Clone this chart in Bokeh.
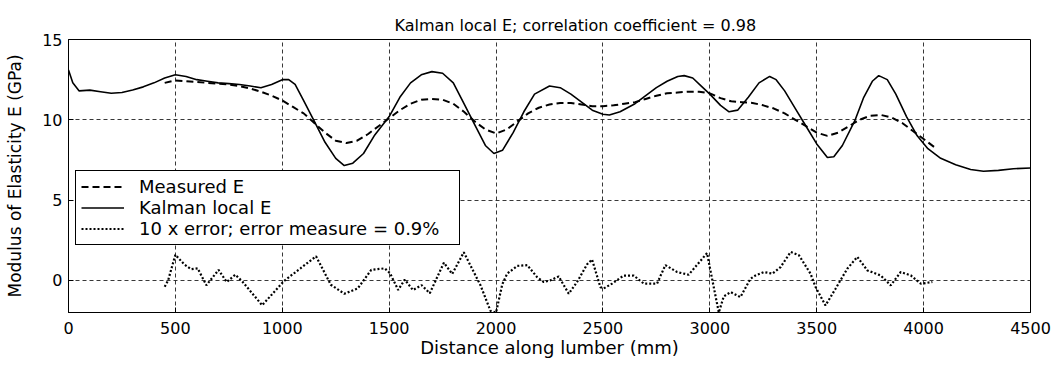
from bokeh.plotting import figure
from bokeh.models import Range1d, Legend, LegendItem, FixedTicker, Title
from bokeh.embed import file_html
from bokeh.resources import INLINE

# ---------------- data ----------------
kalman_x = [0, 20, 50, 100, 150, 200, 250, 300, 350, 400, 450, 500, 550, 600, 650, 700,
            750, 800, 850, 900, 950, 1000, 1030, 1060, 1100, 1150, 1200, 1250, 1290, 1330,
            1380, 1430, 1500, 1550, 1600, 1650, 1700, 1750, 1800, 1850, 1900, 1950, 1990,
            2030, 2080, 2130, 2180, 2250, 2300, 2350, 2400, 2450, 2500, 2530, 2580, 2650,
            2700, 2750, 2800, 2850, 2880, 2920, 2960, 3000, 3050, 3090, 3130, 3180, 3230,
            3280, 3310, 3350, 3400, 3450, 3500, 3550, 3580, 3620, 3680, 3720, 3760, 3790,
            3830, 3870, 3920, 3970, 4020, 4080, 4150, 4220, 4280, 4350, 4420, 4500]
kalman_e = [13.1, 12.3, 11.8, 11.85, 11.75, 11.65, 11.7, 11.85, 12.05, 12.3, 12.6, 12.8,
            12.7, 12.5, 12.4, 12.3, 12.25, 12.2, 12.1, 12.0, 12.2, 12.5, 12.5, 12.2, 11.2,
            9.9, 8.6, 7.6, 7.15, 7.3, 7.9, 9.0, 10.2, 11.4, 12.3, 12.8, 13.0, 12.9, 12.3,
            11.0, 9.7, 8.4, 7.9, 8.1, 9.2, 10.5, 11.6, 12.1, 12.0, 11.6, 11.1, 10.6, 10.35,
            10.3, 10.5, 11.0, 11.5, 12.0, 12.4, 12.7, 12.75, 12.6, 12.1, 11.6, 10.9, 10.5,
            10.6, 11.4, 12.3, 12.7, 12.5, 11.8, 10.7, 9.6, 8.5, 7.65, 7.7, 8.4, 10.0, 11.4,
            12.4, 12.75, 12.5, 11.6, 10.2, 9.0, 8.2, 7.6, 7.2, 6.9, 6.8, 6.85, 6.95, 7.0]

measured_x = [450, 500, 550, 600, 650, 700, 750, 800, 850, 900, 950, 1000, 1050, 1100,
              1150, 1200, 1250, 1300, 1350, 1400, 1450, 1500, 1550, 1600, 1650, 1700,
              1750, 1800, 1850, 1900, 1950, 2000, 2050, 2100, 2150, 2200, 2250, 2300,
              2350, 2400, 2450, 2500, 2550, 2600, 2650, 2700, 2750, 2800, 2850, 2900,
              2950, 3000, 3050, 3100, 3150, 3200, 3250, 3300, 3350, 3400, 3450, 3500,
              3550, 3600, 3650, 3700, 3750, 3800, 3850, 3900, 3950, 4000, 4050]
measured_e = [12.3, 12.45, 12.4, 12.35, 12.3, 12.25, 12.2, 12.1, 11.95, 11.75, 11.5, 11.2,
              10.8, 10.4, 9.8, 9.2, 8.7, 8.55, 8.7, 9.1, 9.6, 10.1, 10.6, 11.0, 11.25,
              11.3, 11.25, 11.0, 10.5, 9.9, 9.4, 9.15, 9.4, 9.9, 10.4, 10.75, 10.95, 11.05,
              11.05, 10.95, 10.85, 10.85, 10.9, 11.0, 11.1, 11.3, 11.5, 11.65, 11.7, 11.75,
              11.75, 11.65, 11.35, 11.15, 11.1, 11.05, 10.9, 10.7, 10.4, 10.0, 9.6, 9.2,
              9.0, 9.2, 9.6, 10.0, 10.25, 10.3, 10.15, 9.8, 9.3, 8.8, 8.3]

error_x = [450, 466, 500, 541, 573, 604, 645, 702, 740, 780, 812, 906, 1007, 1085, 1158,
           1227, 1290, 1353, 1416, 1479, 1504, 1542, 1573, 1611, 1652, 1690, 1756, 1795,
           1849, 1927, 1974, 2000, 2029, 2052, 2099, 2146, 2192, 2223, 2254, 2293, 2340,
           2379, 2426, 2449, 2488, 2504, 2543, 2597, 2644, 2691, 2753, 2792, 2847, 2901,
           2987, 3003, 3042, 3065, 3097, 3143, 3190, 3214, 3253, 3292, 3331, 3378, 3417,
           3471, 3495, 3541, 3588, 3643, 3690, 3737, 3799, 3846, 3893, 3940, 3987, 4041]
error_10x = [-0.4, 0.0, 1.6, 1.0, 0.7, 0.75, -0.3, 0.65, -0.1, 0.35, -0.05, -1.55, -0.05,
             0.75, 1.5, -0.27, -0.83, -0.5, 0.65, 0.75, 0.45, -0.6, 0.05, -0.6, -0.3, -0.8,
             1.1, 0.4, 1.75, -0.3, -1.9, -2.0, -0.25, 0.42, 0.9, 0.95, 0.2, -0.1, 0.0, 0.25,
             -0.83, -0.1, 1.0, 1.3, -0.42, -0.5, -0.2, 0.3, 0.3, -0.2, -0.2, 0.95, 0.52,
             0.35, 1.7, 0.6, -2.0, -1.0, -0.73, -1.04, 0.1, 0.31, 0.52, 0.42, 0.83, 1.77,
             1.56, 0.42, -0.42, -1.56, -0.52, 0.73, 1.46, 0.62, 0.31, -0.31, 0.52, 0.31,
             -0.21, -0.1]

x_ticks = [0, 500, 1000, 1500, 2000, 2500, 3000, 3500, 4000, 4500]
y_ticks = [0, 5, 10, 15]
title_text = "Kalman local E; correlation coefficient = 0.98"
x_label = "Distance along lumber (mm)"
y_label = "Modulus of Elasticity E (GPa)"
legend_labels = ["Measured E", "Kalman local E", "10 x error; error measure = 0.9%"]

FONT = "DejaVu Sans"

# ---------------- figure ----------------
p = figure(width=1055, height=365, output_backend="svg", toolbar_location=None,
           x_range=Range1d(0, 4500), y_range=Range1d(-2, 15),
           min_border_left=68, min_border_right=25, min_border_top=39, min_border_bottom=53)
p.title = Title(text=title_text, align="left", offset=326, standoff=6,
                vertical_align="top",
                text_font=FONT, text_font_size="16px", text_font_style="normal",
                text_color="black")

p.background_fill_color = "white"
p.border_fill_color = "white"
p.outline_line_color = "black"
p.outline_line_width = 1
p.outline_line_alpha = 1

r_meas = p.line(measured_x, measured_e, line_color="black", line_width=2, line_dash="7 4")
r_kal = p.line(kalman_x, kalman_e, line_color="black", line_width=1.6)
r_err = p.line(error_x, error_10x, line_color="black", line_width=2.2, line_dash="2 2")

for ax in (p.xaxis[0], p.yaxis[0]):
    ax.axis_line_color = "black"
    ax.major_tick_in = 5
    ax.major_tick_out = 0
    ax.minor_tick_line_color = None
    ax.major_tick_line_color = "black"
    ax.major_label_text_font = FONT
    ax.major_label_text_font_size = "16px"
    ax.major_label_text_color = "black"
    ax.axis_label_text_font = FONT
    ax.axis_label_text_font_style = "normal"
    ax.axis_label_text_color = "black"

p.xaxis.ticker = FixedTicker(ticks=x_ticks)
p.yaxis.ticker = FixedTicker(ticks=y_ticks)
p.xaxis.axis_label = x_label
p.yaxis.axis_label = y_label
p.xaxis.axis_label_text_font_size = "18px"
p.yaxis.axis_label_text_font_size = "17px"
p.xaxis.major_label_standoff = 9
p.xaxis.axis_label_standoff = 0
p.yaxis.major_label_standoff = 6
p.yaxis.axis_label_standoff = 14

for g in (p.xgrid[0], p.ygrid[0]):
    g.grid_line_color = "#222222"
    g.grid_line_alpha = 0.9
    g.grid_line_width = 1
    g.grid_line_dash = "4 3"
p.xgrid.ticker = FixedTicker(ticks=x_ticks)
p.ygrid.ticker = FixedTicker(ticks=y_ticks)

legend = Legend(items=[LegendItem(label=legend_labels[0], renderers=[r_meas]),
                       LegendItem(label=legend_labels[1], renderers=[r_kal]),
                       LegendItem(label=legend_labels[2], renderers=[r_err])],
                location=(7, 67), margin=0, padding=5, spacing=0,
                glyph_width=43, glyph_height=21, label_height=21, label_width=315,
                label_standoff=15, label_text_font=FONT, label_text_font_size="18px",
                label_text_color="black", border_line_color="black", border_line_width=1,
                border_line_alpha=1, background_fill_color="white", background_fill_alpha=1)
p.add_layout(legend, "center")

open("out.html", "w").write(file_html(p, INLINE))
